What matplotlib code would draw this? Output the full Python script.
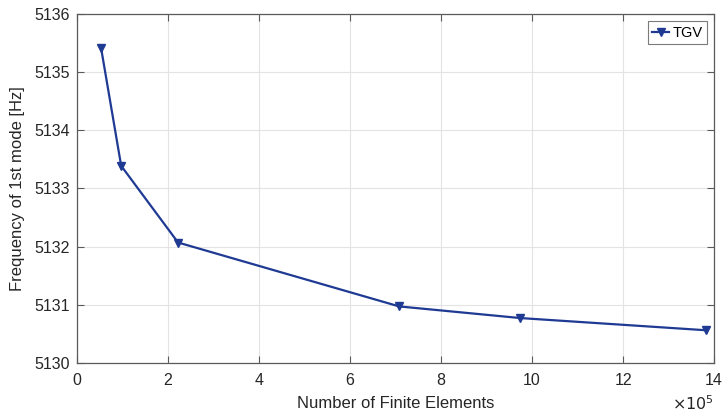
import numpy as np
import matplotlib.pyplot as plt

# Mesh convergence data
n_elements = [0.53e5, 0.97e5, 2.22e5, 7.08e5, 9.74e5, 13.82e5]
frequency = [5135.41, 5133.39, 5132.07, 5130.97, 5130.77, 5130.56]
series_label = 'TGV'

plt.rcParams['font.family'] = ['Liberation Sans', 'DejaVu Sans']

line_col = '#1f3a93'
axis_col = '#5a5a5a'
text_col = '#262626'

fig = plt.figure(figsize=(7.24, 4.17), dpi=100)
ax = fig.add_axes([0.1064, 0.130, 0.880, 0.836])

ax.plot(n_elements, frequency, color=line_col, lw=1.6, marker='v',
        markersize=5.5, label=series_label)

ax.set_xlim(0, 14e5)
ax.set_ylim(5130, 5136)
ax.set_xticks(np.arange(0, 15e5, 2e5))
ax.set_xticklabels([str(v) for v in range(0, 15, 2)])
ax.set_yticks(np.arange(5130, 5137, 1))
ax.set_yticklabels([str(v) for v in range(5130, 5137)])

ax.grid(True, color='#e3e3e3', lw=0.8)
ax.set_axisbelow(True)
for s in ax.spines.values():
    s.set_color(axis_col)
    s.set_linewidth(0.9)
ax.tick_params(direction='in', top=True, right=True, colors=axis_col,
               labelcolor=text_col, labelsize=11.5, length=5)
ax.tick_params(axis='x', pad=7)
ax.tick_params(axis='y', pad=5)

ax.set_xlabel('Number of Finite Elements', fontsize=12, color=text_col,
              labelpad=6)
ax.set_ylabel('Frequency of 1st mode [Hz]', fontsize=12, color=text_col,
              labelpad=7)
ax.text(1.0, -0.118, r'$\times10^5$', transform=ax.transAxes, ha='right',
        va='center', fontsize=11.5, color=text_col)

leg = ax.legend(loc='upper right', fontsize=10.5, fancybox=False,
                handlelength=1.2, handletextpad=0.2, borderpad=0.3,
                borderaxespad=0.5)
leg.get_frame().set_edgecolor(axis_col)
leg.get_frame().set_linewidth(0.8)

fig.savefig('out.png', dpi=100)
